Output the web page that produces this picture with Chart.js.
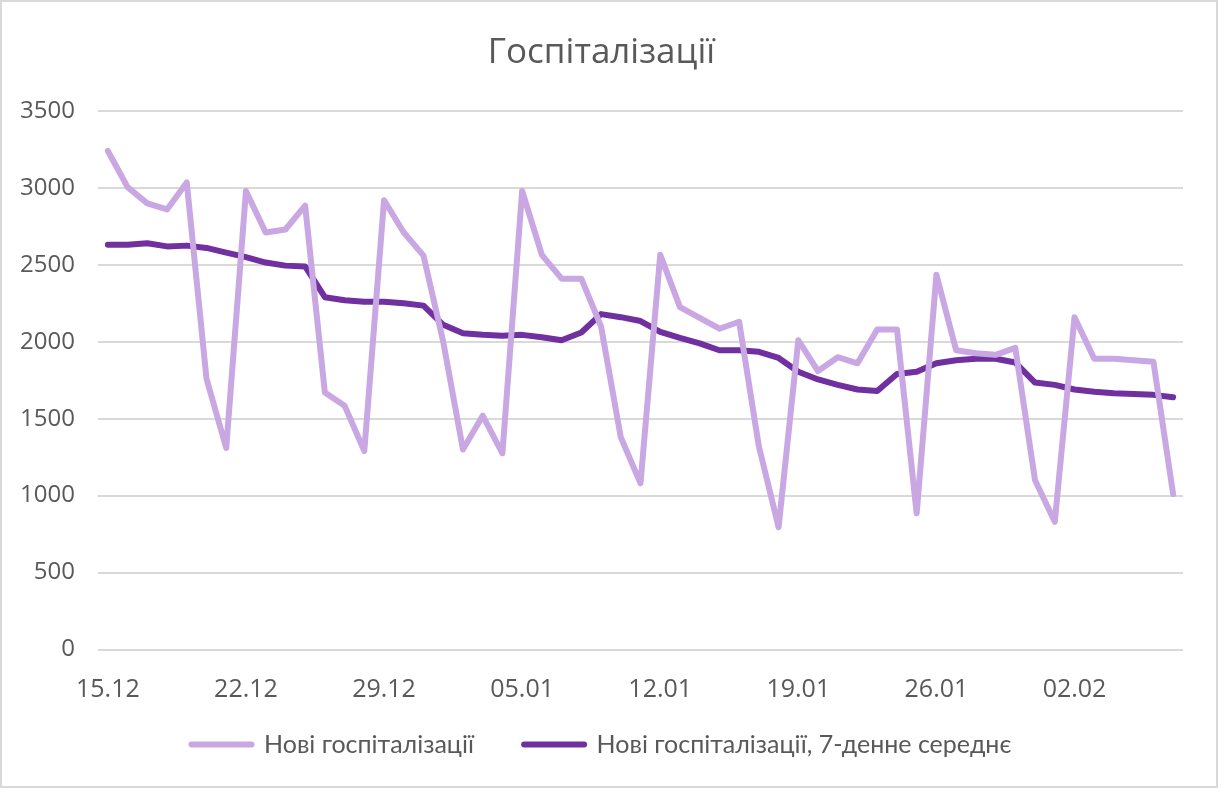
<!DOCTYPE html>
<html>
<head>
<meta charset="utf-8">
<script src="https://cdn.jsdelivr.net/npm/chart.js@4.4.1/dist/chart.umd.min.js"></script>
<style>
  html, body { margin: 0; padding: 0; background: #fff; }
  #wrap { position: relative; width: 1222px; height: 789px; }
  #frame { position: absolute; left: 0; top: 0; width: 1214px; height: 784px; border: 2px solid #d9d9d9; pointer-events: none; }
</style>
</head>
<body>
<div id="wrap">
  <canvas id="hospChart" width="1222" height="789"></canvas>
  <div id="frame"></div>
</div>
<script>
// дати від 15.12 до 07.02
const dates = [
  '15.12', '16.12', '17.12', '18.12', '19.12', '20.12', '21.12', '22.12', '23.12', '24.12',
  '25.12', '26.12', '27.12', '28.12', '29.12', '30.12', '31.12', '01.01', '02.01', '03.01',
  '04.01', '05.01', '06.01', '07.01', '08.01', '09.01', '10.01', '11.01', '12.01', '13.01',
  '14.01', '15.01', '16.01', '17.01', '18.01', '19.01', '20.01', '21.01', '22.01', '23.01',
  '24.01', '25.01', '26.01', '27.01', '28.01', '29.01', '30.01', '31.01', '01.02', '02.02',
  '03.02', '04.02', '05.02', '06.02', '07.02'
];

// нові госпіталізації за день
const newHosp = [
  3240, 3005, 2900, 2860, 3035, 1760, 1310, 2980, 2710, 2730,
  2885, 1670, 1585, 1290, 2920, 2710, 2560, 2000, 1300, 1520,
  1275, 2980, 2565, 2410, 2410, 2100, 1380, 1080, 2565, 2225,
  2155, 2085, 2130, 1320, 795, 2010, 1810, 1900, 1860, 2080,
  2080, 885, 2435, 1945, 1925, 1915, 1960, 1100, 830, 2160,
  1890, 1890, 1880, 1870, 1010
];

// 7-денне середнє
const avg7 = [
  2630, 2630, 2640, 2620, 2625, 2610, 2580, 2550, 2515, 2495,
  2490, 2290, 2270, 2260, 2260, 2250, 2235, 2110, 2055, 2045,
  2040, 2045, 2030, 2010, 2060, 2180, 2160, 2135, 2065, 2025,
  1990, 1945, 1945, 1935, 1895, 1805, 1755, 1720, 1690, 1680,
  1790, 1805, 1860, 1880, 1890, 1890, 1865, 1735, 1720, 1690,
  1675, 1665, 1660, 1655, 1640
];

const seriesNames = ['Нові госпіталізації', 'Нові госпіталізації, 7-денне середнє'];
const yTicks = [0, 500, 1000, 1500, 2000, 2500, 3000, 3500];

const textColor = '#595959';
const gridColor = '#d9d9d9';

const ctx = document.getElementById('hospChart').getContext('2d');
new Chart(ctx, {
  type: 'line',
  data: {
    labels: dates,
    datasets: [
      {
        label: seriesNames[0],
        data: newHosp,
        borderColor: '#c8a7e3',
        backgroundColor: '#c8a7e3',
        borderWidth: 6,
        borderJoinStyle: 'round',
        borderCapStyle: 'round',
        pointRadius: 0,
        tension: 0,
        fill: false
      },
      {
        label: seriesNames[1],
        data: avg7,
        borderColor: '#7030a0',
        backgroundColor: '#7030a0',
        borderWidth: 6,
        borderJoinStyle: 'round',
        borderCapStyle: 'round',
        pointRadius: 0,
        tension: 0,
        fill: false
      }
    ]
  },
  options: {
    responsive: false,
    animation: false,
    layout: { padding: { left: 20, right: 39, top: 2, bottom: 22 } },
    plugins: {
      title: {
        display: true,
        text: 'Госпіталізації',
        color: textColor,
        font: { family: 'Open Sans', size: 35, weight: 'normal' },
        padding: { top: 30, bottom: 37 }
      },
      legend: {
        position: 'bottom',
        labels: {
          color: textColor,
          font: { family: "'Liberation Sans Narrow', Lato", size: 25 },
          usePointStyle: true,
          pointStyleWidth: 60,
          padding: 50,
          generateLabels: (chart) => chart.data.datasets.map((ds, i) => ({
            text: ds.label,
            datasetIndex: i,
            pointStyle: 'line',
            strokeStyle: ds.borderColor,
            fillStyle: ds.borderColor,
            lineWidth: 6,
            lineCap: 'round',
            fontColor: textColor
          }))
        }
      },
      tooltip: { enabled: false }
    },
    scales: {
      x: {
        offset: true,
        // mirror: мітки не обрізаються, а вісь лишається низькою (висота = tickLength + 2*padding)
        grid: { display: false, drawTicks: true, tickLength: 142.5 },
        border: { display: false },
        ticks: {
          autoSkip: false,
          maxRotation: 0,
          mirror: true,
          color: textColor,
          padding: -55,
          font: { family: 'Open Sans', size: 25 },
          callback: function (value, index) {
            return index % 7 === 0 ? this.getLabelForValue(value) : '';
          }
        }
      },
      y: {
        min: 0,
        max: 3500,
        afterBuildTicks: (axis) => { axis.ticks = yTicks.map(v => ({ value: v })); },
        afterFit: (axis) => { axis.width = 78; },
        grid: { color: gridColor, lineWidth: 2, drawTicks: false },
        border: { display: false },
        ticks: {
          color: textColor,
          padding: 23,
          font: { family: 'Open Sans', size: 24 },
          callback: (value) => String(value)
        }
      }
    }
  }
});
</script>
</body>
</html>
